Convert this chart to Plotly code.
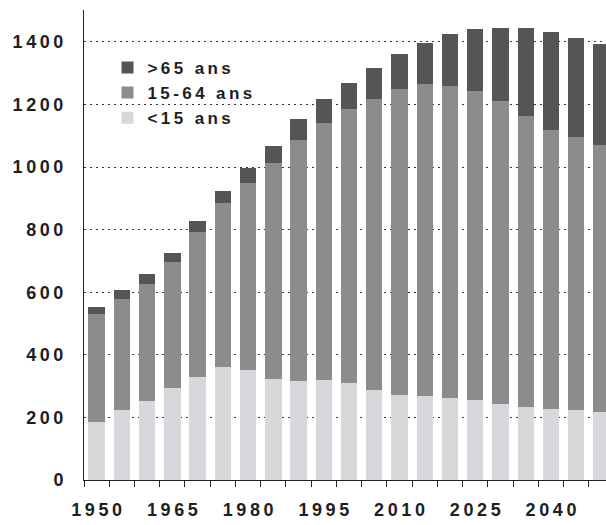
import plotly.graph_objects as go

years = [str(y) for y in range(1950, 2051, 5)]
under15 = [184, 225, 252, 293, 328, 362, 351, 323, 315, 319, 311, 287, 271, 268, 263, 257, 244, 233, 227, 223, 218]
age15_64 = [346, 355, 373, 404, 465, 524, 599, 689, 773, 823, 875, 932, 977, 999, 995, 986, 968, 929, 891, 872, 851]
over65 = [22, 27, 32, 30, 35, 38, 48, 56, 66, 75, 84, 99, 112, 131, 167, 198, 233, 283, 314, 319, 323]
series_names = ["<15 ans", "15-64 ans", ">65 ans"]
colors = ["#d8d8dc", "#8c8c8c", "#555555"]
y_ticks = [0, 200, 400, 600, 800, 1000, 1200, 1400]
x_labels_every = 3

TS = "\u2009"

def spaced(s):
    return TS.join(list(s))

fig = go.Figure()
for name, vals, col in zip(series_names, [under15, age15_64, over65], colors):
    fig.add_trace(go.Bar(x=years, y=vals, name=spaced(name), marker=dict(color=col, line=dict(width=0))))

xt = [spaced(y) if i % x_labels_every == 0 else "" for i, y in enumerate(years)]

font = dict(family="Liberation Sans, Arial, sans-serif", size=18, color="#1e1e1e", weight="bold")

fig.update_layout(
    barmode="stack",
    bargap=0.35,
    width=606, height=525,
    margin=dict(l=84, r=0, t=10, b=45, autoexpand=False),
    paper_bgcolor="white", plot_bgcolor="white",
    font=font,
    showlegend=True,
    legend=dict(x=0.045, y=0.915, xanchor="left", yanchor="top", traceorder="reversed",
                bgcolor="rgba(0,0,0,0)", font=dict(size=17, family="Liberation Sans, Arial, sans-serif", color="#1e1e1e", weight="bold"),
                itemwidth=30),
    xaxis=dict(type="category", range=[-0.5, 20.18], tickvals=years, ticktext=xt,
               tickson="boundaries", ticks="outside", ticklen=6, tickcolor="#222",
               showline=True, linecolor="#222", linewidth=1, showgrid=False,
               ticklabelstandoff=13, tickangle=0, automargin=False),
    yaxis=dict(range=[0, 1502], tickvals=y_ticks, ticktext=[spaced(str(v)) for v in y_ticks],
               showline=True, linecolor="#222", linewidth=1, ticks="",
               showgrid=True, gridcolor="#333", gridwidth=1, griddash="2px,4px",
               zeroline=False, ticklabelstandoff=16, automargin=False),
)

fig.write_html("out.html", config={"displayModeBar": False},
               post_script="document.body.style.margin='0';document.body.style.overflow='hidden';")
